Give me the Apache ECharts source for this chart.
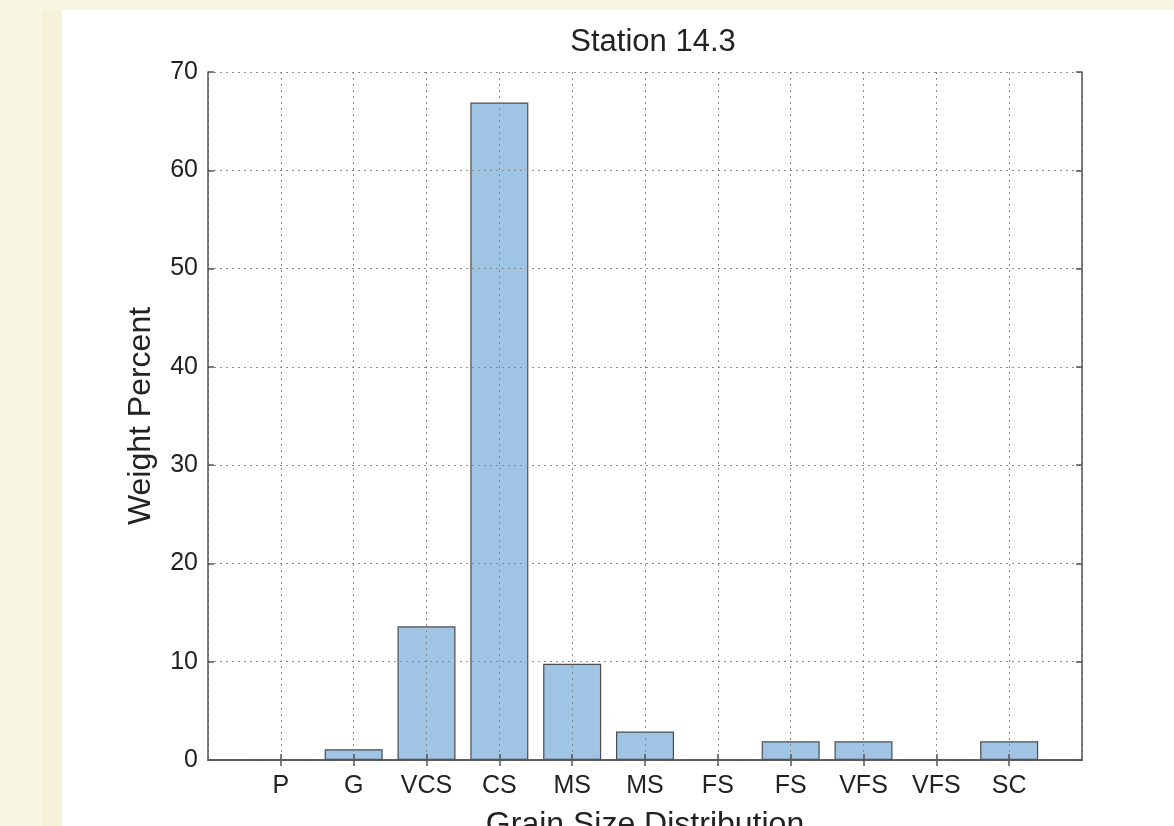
<!DOCTYPE html>
<html>
<head>
<meta charset="utf-8">
<script src="https://cdn.jsdelivr.net/npm/echarts@6/dist/echarts.min.js"></script>
<style>
  html, body { margin: 0; padding: 0; background: #f8f6e3; }
  #main { width: 1174px; height: 826px; }
</style>
</head>
<body>
<div id="main"></div>
<script>
// grain size classes (blank ends pad the axis like the original plot)
var categories = ['', 'P', 'G', 'VCS', 'CS', 'MS', 'MS', 'FS', 'FS', 'VFS', 'VFS', 'SC', ''];
var weightPercent = ['-', 0, 1.1, 13.6, 66.9, 9.8, 2.9, 0, 1.9, 1.9, 0, 1.9, '-'];
var yTicks = [0, 10, 20, 30, 40, 50, 60, 70];

var chart = echarts.init(document.getElementById('main'));

var font = 'Liberation Sans';
var frame = { show: true, lineStyle: { color: '#555', width: 1.5 } };
var dotted = { show: true, lineStyle: { color: '#8a8a8a', type: [2, 4], width: 1 } };
var innerTick = { show: true, inside: true, length: 6, lineStyle: { color: '#555', width: 1.5 } };

var option = {
  backgroundColor: '#f8f6e3',
  animation: false,
  graphic: [{
    type: 'rect', z: -10,
    shape: { x: 42, y: 10, width: 20, height: 816 },
    style: { fill: '#f5f2d9' }
  }, {
    type: 'rect', z: -10,
    shape: { x: 62, y: 10, width: 1112, height: 816 },
    style: { fill: '#ffffff' }
  }],
  title: {
    text: 'Station 14.3',
    left: 648, top: 22, textAlign: 'center',
    textStyle: { fontFamily: font, fontSize: 31, fontWeight: 'normal', color: '#222' }
  },
  grid: { left: 208, right: 92, top: 72, bottom: 66, outerBoundsMode: 'none' },
  xAxis: [{
    type: 'category',
    data: categories,
    boundaryGap: false,
    z: 5,
    name: 'Grain Size Distribution',
    nameLocation: 'middle',
    nameGap: 49,
    nameTextStyle: { fontFamily: font, fontSize: 32, color: '#222' },
    axisLine: frame,
    axisTick: Object.assign({}, innerTick, {
      interval: function (i) { return i > 0 && i < categories.length - 1; } }),
    axisLabel: { interval: 0, margin: 14, fontFamily: font, fontSize: 25, color: '#222' },
    splitLine: dotted
  }, {
    type: 'category',
    data: categories,
    boundaryGap: false,
    position: 'top',
    z: 5,
    axisLine: frame,
    axisTick: Object.assign({}, innerTick, {
      interval: function (i) { return i > 0 && i < categories.length - 1; } }),
    axisLabel: { show: false },
    splitLine: { show: false }
  }],
  yAxis: [{
    type: 'value',
    min: 0, max: 70, interval: 10,
    z: 5,
    name: 'Weight Percent',
    nameLocation: 'middle',
    nameGap: 51,
    nameTextStyle: { fontFamily: font, fontSize: 32, color: '#222' },
    axisLine: frame,
    axisTick: innerTick,
    axisLabel: { margin: 10, fontFamily: font, fontSize: 25, color: '#222',
      formatter: function (v) { return yTicks.indexOf(v) >= 0 ? String(v) : ''; } },
    splitLine: dotted
  }, {
    type: 'value',
    min: 0, max: 70, interval: 10,
    position: 'right',
    z: 5,
    axisLine: frame,
    axisTick: innerTick,
    axisLabel: { show: false },
    splitLine: { show: false }
  }],
  series: [{
    type: 'bar',
    data: weightPercent,
    barWidth: 58,
    itemStyle: { color: '#9fc4e4', borderColor: '#4d4d4d', borderWidth: 1.2 }
  }]
};

chart.setOption(option);
</script>
</body>
</html>
